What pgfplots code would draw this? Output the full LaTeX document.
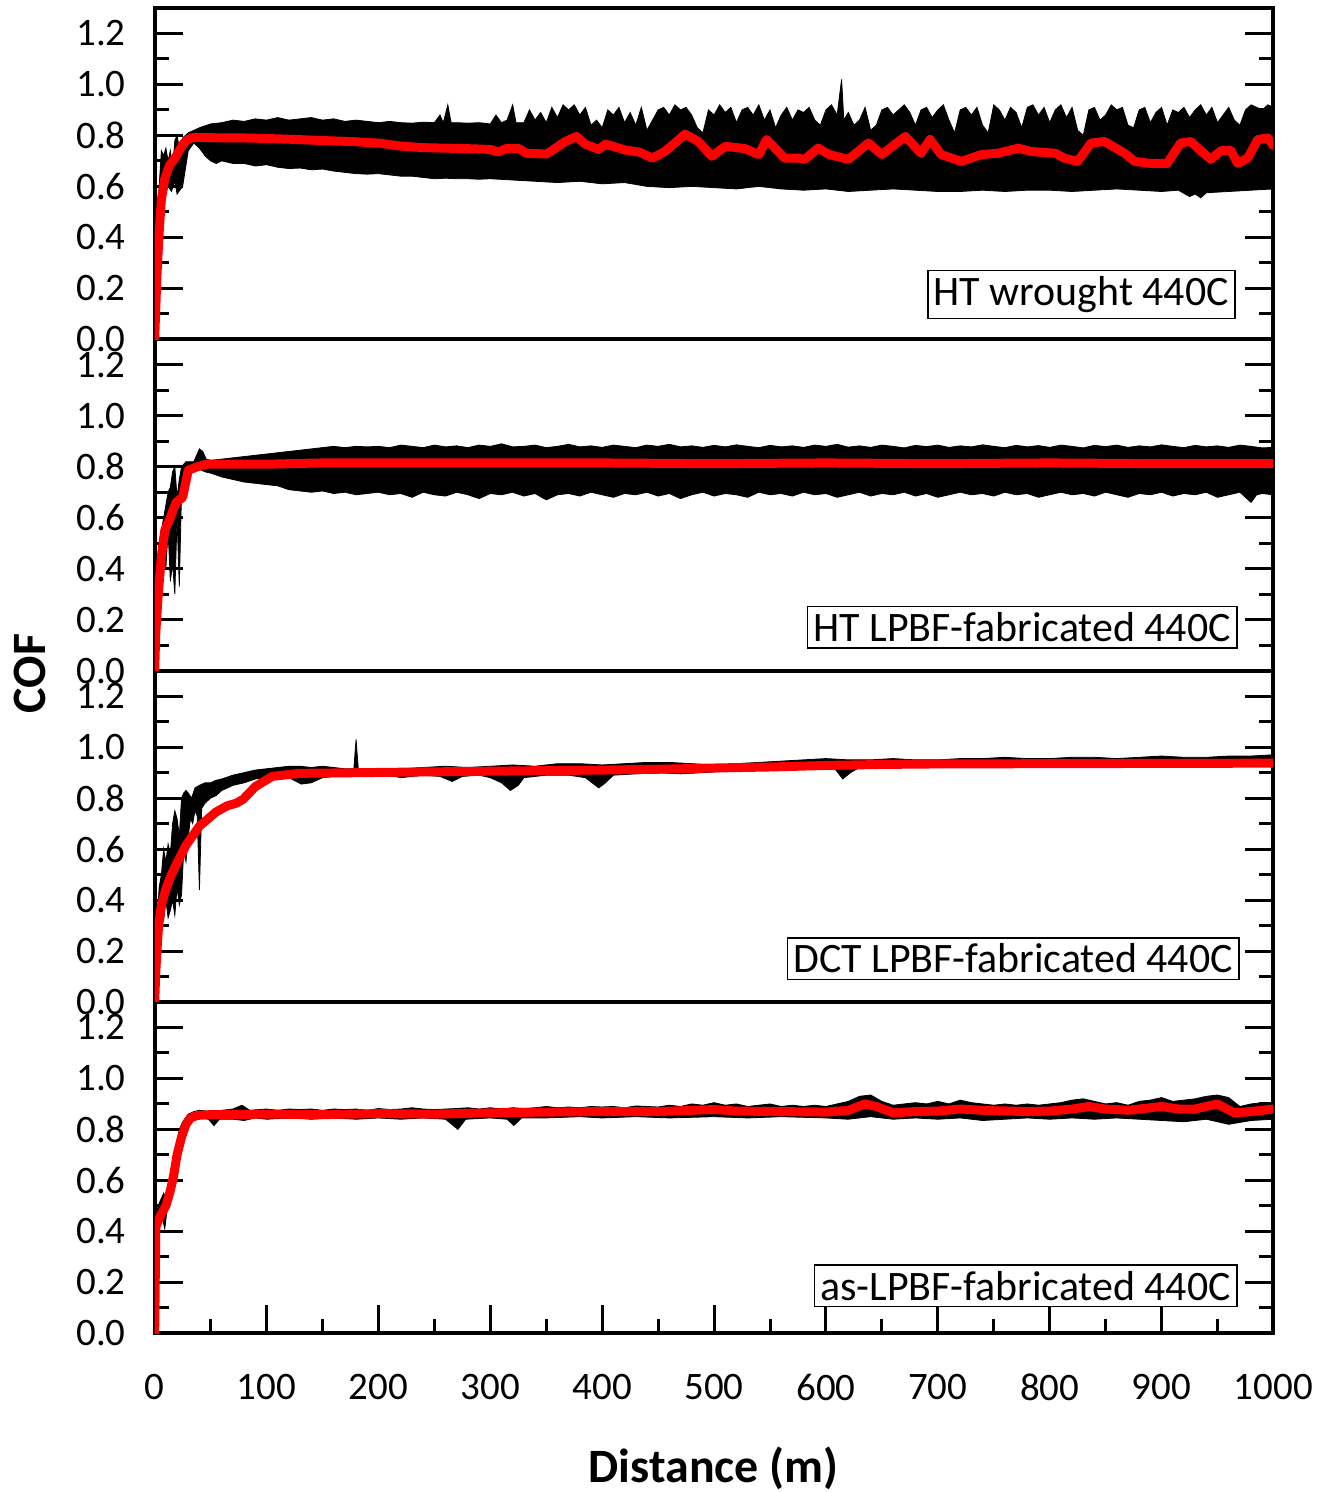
\documentclass[border=0pt]{standalone}
\usepackage{fontspec}
\setmainfont{Carlito}
\usepackage{pgfplots}
\pgfplotsset{compat=1.18}
\usepgfplotslibrary{fillbetween}

\pgfplotsset{
  panel/.style={
    scale only axis, width=560.5pt, height=166pt,
    xmin=0, xmax=1000, ymin=0, ymax=1.3,
    ytick={0,0.2,0.4,0.6,0.8,1.0,1.2},
    minor y tick num=1,
    tick align=inside, ytick pos=both,
    major tick length=14pt, minor tick length=7pt,
    axis line style={line width=2pt},
    every tick/.style={black, line width=1.5pt},
    tick label style={font=\fontsize{19.5}{22}\selectfont},
    /pgf/number format/assume math mode=true,
    /pgf/number format/1000 sep={},
    yticklabel style={xshift=-11pt, /pgf/number format/fixed,
      /pgf/number format/fixed zerofill, /pgf/number format/precision=1},
    xtick=\empty,
  },
  bottompanel/.style={
    xtick={0,100,200,300,400,500,600,700,800,900,1000},
    minor x tick num=1, xtick pos=left,
    xticklabel style={yshift=-17pt},
  },
  edge/.style={black, line width=0.4pt},
  band/.style={black, draw=none},
  cofline/.style={red, line width=4.5pt, line join=round, line cap=round},
}
\tikzset{
  tag/.style={draw, line width=0.75pt, inner sep=3pt, anchor=south east,
    font=\fontsize{21}{24}\selectfont, fill=white},
}

\begin{document}
\begin{tikzpicture}

% ---------------- HT wrought 440C
\begin{axis}[panel, at={(0,498pt)}, anchor=south west]
\addplot[edge, name path=u1] coordinates {
(0,0) (2,0.3) (4,0.6) (6,0.74) (8,0.72) (10,0.75) (12,0.7) (14,0.74) (16,0.66) (18,0.78) (20,0.8) (22,0.75) (25,0.79) (30,0.81) (35,0.82)
(40,0.83) (50,0.845) (60,0.85) (70,0.86) (80,0.855) (90,0.865) (100,0.86) (110,0.87) (120,0.86) (130,0.865) (140,0.87) (150,0.86)
(160,0.865) (170,0.855) (180,0.86) (190,0.855) (200,0.85) (210,0.855) (220,0.85) (230,0.848) (240,0.852) (250,0.85) (255,0.88)
(258,0.85) (262,0.92) (265,0.85) (270,0.85) (280,0.848) (290,0.85) (300,0.845) (305,0.88) (310,0.85) (315,0.86) (320,0.92)
(323,0.85) (330,0.85) (335,0.9) (340,0.86) (345,0.89) (350,0.85) (355,0.91) (360,0.87) (365,0.92) (370,0.9) (375,0.92) (380,0.88)
(385,0.91) (390,0.84) (395,0.86) (400,0.83) (405,0.9) (410,0.88) (415,0.91) (420,0.85) (425,0.89) (430,0.84) (435,0.91) (440,0.82)
(445,0.86) (450,0.9) (455,0.91) (460,0.88) (465,0.92) (470,0.9) (475,0.91) (480,0.88) (485,0.83) (490,0.81) (495,0.9) (500,0.88)
(505,0.92) (510,0.89) (515,0.91) (520,0.85) (525,0.9) (530,0.91) (535,0.88) (540,0.92) (545,0.86) (550,0.9) (555,0.83) (560,0.88)
(565,0.91) (570,0.86) (575,0.9) (580,0.89) (585,0.91) (590,0.86) (595,0.84) (600,0.9) (605,0.92) (610,0.88) (614,1.02) (616,0.86)
(620,0.89) (625,0.84) (630,0.86) (635,0.91) (640,0.82) (645,0.84) (650,0.9) (655,0.91) (660,0.88) (665,0.9) (670,0.92) (675,0.89)
(680,0.84) (685,0.9) (690,0.91) (695,0.87) (700,0.9) (705,0.92) (710,0.86) (715,0.81) (720,0.9) (725,0.91) (730,0.88) (735,0.91)
(740,0.84) (745,0.81) (750,0.92) (755,0.9) (760,0.86) (765,0.91) (770,0.89) (775,0.83) (780,0.91) (785,0.92) (790,0.88) (795,0.91)
(800,0.85) (805,0.9) (810,0.92) (815,0.87) (820,0.91) (825,0.82) (830,0.8) (835,0.9) (840,0.91) (845,0.86) (850,0.88) (855,0.92)
(860,0.9) (865,0.91) (870,0.84) (875,0.83) (880,0.9) (885,0.91) (890,0.85) (895,0.89) (900,0.91) (905,0.84) (910,0.9) (915,0.89)
(920,0.91) (925,0.87) (930,0.9) (935,0.92) (940,0.88) (945,0.91) (950,0.85) (955,0.88) (960,0.91) (965,0.86) (970,0.84) (975,0.9)
(980,0.92) (985,0.91) (990,0.9) (995,0.92) (1000,0.91)
};
\addplot[edge, name path=l1] coordinates {
(0,0) (2,0.2) (5,0.45) (8,0.55) (12,0.6) (15,0.58) (18,0.62) (20,0.57) (25,0.6) (30,0.74) (35,0.77) (40,0.75) (45,0.72) (50,0.7)
(55,0.69) (60,0.7) (70,0.69) (80,0.69) (90,0.68) (100,0.685) (110,0.675) (120,0.67) (130,0.672) (140,0.665) (150,0.668) (160,0.66)
(170,0.655) (180,0.65) (190,0.648) (200,0.65) (210,0.645) (220,0.64) (230,0.64) (240,0.635) (250,0.63) (260,0.632) (270,0.63)
(280,0.63) (290,0.628) (300,0.63) (320,0.625) (340,0.62) (360,0.615) (380,0.62) (400,0.61) (420,0.615) (440,0.6) (460,0.595)
(480,0.6) (500,0.595) (520,0.59) (540,0.6) (560,0.59) (580,0.585) (600,0.59) (620,0.58) (640,0.585) (660,0.59) (680,0.585)
(700,0.58) (720,0.58) (740,0.585) (760,0.58) (780,0.585) (800,0.585) (820,0.58) (840,0.585) (860,0.59) (880,0.585) (900,0.58)
(915,0.585) (925,0.56) (930,0.57) (935,0.555) (940,0.575) (960,0.58) (980,0.585) (1000,0.59)
};
\addplot[band] fill between[of=u1 and l1];
\addplot[cofline] coordinates {
(0,0) (2,0.25) (4,0.42) (6,0.55) (9,0.63) (13,0.68) (18,0.71) (22,0.74) (26,0.77) (30,0.785) (35,0.792) (45,0.792) (60,0.79)
(80,0.79) (100,0.788) (120,0.785) (150,0.78) (180,0.775) (200,0.77) (220,0.758) (240,0.752) (260,0.75) (280,0.748) (300,0.745)
(307,0.735) (314,0.748) (326,0.748) (332,0.73) (350,0.727) (355,0.74) (367,0.776) (377,0.796) (385,0.765) (397,0.745) (403,0.766)
(421,0.742) (433,0.735) (445,0.711) (456,0.737) (465,0.77) (474,0.805) (486,0.776) (498,0.718) (510,0.757) (528,0.748) (540,0.725)
(547,0.784) (563,0.711) (575,0.711) (581,0.706) (593,0.75) (603,0.725) (620,0.706) (638,0.77) (650,0.725) (671,0.796) (685,0.73)
(693,0.784) (703,0.725) (721,0.698) (739,0.725) (754,0.73) (772,0.75) (783,0.737) (805,0.73) (813,0.711) (825,0.698) (837,0.77)
(849,0.776) (867,0.73) (876,0.698) (890,0.69) (905,0.69) (917,0.77) (926,0.776) (935,0.74) (944,0.706) (953,0.74) (962,0.74)
(968,0.69) (977,0.711) (986,0.784) (995,0.79) (1000,0.76)
};
\node[tag, xshift=-19pt, yshift=10pt] at (rel axis cs:1,0) {HT wrought 440C};
\end{axis}

% ---------------- HT LPBF-fabricated 440C
\begin{axis}[panel, at={(0,332pt)}, anchor=south west]
\addplot[edge, name path=u2] coordinates {
(0,0) (2,0.3) (4,0.5) (6,0.55) (8,0.6) (10,0.65) (12,0.7) (14,0.72) (16,0.78) (18,0.8) (20,0.68) (22,0.75) (24,0.8) (26,0.81)
(28,0.82) (30,0.82) (35,0.82) (38,0.85) (40,0.87) (43,0.86) (46,0.83) (50,0.825) (60,0.83) (70,0.835) (80,0.84) (90,0.845)
(100,0.85) (110,0.855) (120,0.86) (130,0.865) (140,0.87) (150,0.875) (160,0.88) (170,0.875) (180,0.88) (190,0.878)
(200,0.88) (210,0.875) (220,0.885) (230,0.88) (240,0.875) (250,0.885) (260,0.878) (270,0.882) (280,0.875) (290,0.885) (300,0.88)
(310,0.89) (320,0.878) (330,0.88) (340,0.885) (350,0.875) (360,0.88) (370,0.888) (380,0.878) (390,0.882) (400,0.876) (410,0.885)
(420,0.88) (430,0.875) (440,0.885) (450,0.88) (460,0.888) (470,0.878) (480,0.882) (490,0.876) (500,0.884) (510,0.878) (520,0.886)
(530,0.88) (540,0.875) (550,0.884) (560,0.878) (570,0.882) (580,0.876) (590,0.885) (600,0.88) (610,0.888) (620,0.877) (630,0.882)
(640,0.876) (650,0.885) (660,0.88) (670,0.874) (680,0.884) (690,0.879) (700,0.885) (710,0.876) (720,0.882) (730,0.878) (740,0.886)
(750,0.88) (760,0.875) (770,0.884) (780,0.878) (790,0.883) (800,0.876) (810,0.885) (820,0.88) (830,0.874) (840,0.884) (850,0.879)
(860,0.885) (870,0.876) (880,0.882) (890,0.878) (900,0.886) (910,0.88) (920,0.875) (930,0.884) (940,0.878) (950,0.882) (960,0.876)
(970,0.885) (980,0.88) (990,0.874) (1000,0.876)
};
\addplot[edge, name path=l2] coordinates {
(0,0) (2,0.1) (4,0.3) (6,0.45) (8,0.5) (10,0.4) (12,0.55) (14,0.35) (16,0.42) (18,0.3) (20,0.6) (22,0.33) (24,0.7) (26,0.77)
(30,0.78) (35,0.785) (40,0.79) (45,0.78) (50,0.775) (60,0.76) (70,0.75) (80,0.74) (90,0.735) (100,0.73) (110,0.725) (120,0.71)
(130,0.705) (140,0.7) (150,0.705) (160,0.695) (170,0.7) (180,0.69) (190,0.695)
(200,0.7) (210,0.69) (220,0.695) (230,0.68) (240,0.7) (250,0.69) (260,0.685) (270,0.7) (280,0.69) (290,0.675) (300,0.695)
(310,0.69) (320,0.7) (330,0.685) (340,0.695) (350,0.67) (360,0.69) (370,0.695) (380,0.685) (390,0.7) (400,0.69) (410,0.68)
(420,0.695) (430,0.69) (440,0.7) (450,0.685) (460,0.695) (470,0.675) (480,0.69) (490,0.7) (500,0.685) (510,0.695) (520,0.69)
(530,0.68) (540,0.7) (550,0.69) (560,0.695) (570,0.685) (580,0.7) (590,0.69) (600,0.695) (610,0.68) (620,0.69) (630,0.7)
(640,0.685) (650,0.695) (660,0.69) (670,0.7) (680,0.685) (690,0.695) (700,0.68) (710,0.69) (720,0.7) (730,0.69) (740,0.695)
(750,0.685) (760,0.7) (770,0.69) (780,0.695) (790,0.68) (800,0.69) (810,0.7) (820,0.69) (830,0.695) (840,0.685) (850,0.7)
(860,0.69) (870,0.68) (880,0.695) (890,0.69) (900,0.7) (910,0.685) (920,0.695) (930,0.69) (940,0.7) (950,0.68) (960,0.69)
(970,0.7) (980,0.66) (985,0.69) (990,0.695) (1000,0.69)
};
\addplot[band] fill between[of=u2 and l2];
\addplot[cofline] coordinates {
(0,0) (1,0.15) (3,0.29) (6,0.45) (9,0.55) (14,0.6) (19,0.66) (25,0.68) (30,0.786) (38,0.8) (46,0.81) (100,0.81) (150,0.815)
(200,0.815) (300,0.815) (400,0.815) (500,0.812) (600,0.815) (700,0.812) (800,0.815) (900,0.812) (1000,0.812)
};
\node[tag, xshift=-18pt, yshift=11pt] at (rel axis cs:1,0) {HT LPBF-fabricated 440C};
\end{axis}

% ---------------- DCT LPBF-fabricated 440C
\begin{axis}[panel, at={(0,166pt)}, anchor=south west]
\addplot[edge, name path=u3] coordinates {
(0,0) (2,0.3) (4,0.45) (6,0.5) (8,0.6) (10,0.55) (12,0.62) (14,0.58) (16,0.7) (18,0.75) (20,0.72) (22,0.65) (24,0.8) (26,0.82)
(28,0.83) (30,0.82) (33,0.8) (36,0.84) (40,0.85) (45,0.86) (50,0.86) (55,0.87) (60,0.875) (70,0.89) (80,0.9) (90,0.91) (100,0.915)
(110,0.92) (120,0.925) (130,0.925) (140,0.92) (150,0.925) (160,0.92) (170,0.915) (178,0.915) (180,1.03) (182,0.915) (190,0.91)
(200,0.91) (220,0.915) (240,0.92) (260,0.925) (280,0.92) (300,0.925) (320,0.93) (340,0.925) (360,0.935) (380,0.935) (400,0.93)
(420,0.935) (440,0.94) (460,0.94) (480,0.935) (500,0.93) (520,0.935) (540,0.94) (560,0.945) (580,0.95) (600,0.955) (620,0.95)
(640,0.95) (660,0.955) (680,0.95) (700,0.95) (720,0.955) (740,0.955) (760,0.96) (780,0.955) (800,0.955) (820,0.96) (840,0.96)
(860,0.955) (880,0.96) (900,0.965) (920,0.96) (940,0.96) (960,0.965) (980,0.965) (1000,0.97)
};
\addplot[edge, name path=l3] coordinates {
(0,0) (2,0.1) (4,0.3) (6,0.35) (8,0.32) (10,0.4) (12,0.33) (14,0.36) (16,0.4) (18,0.34) (20,0.45) (22,0.38) (24,0.42) (26,0.6)
(28,0.55) (30,0.65) (32,0.72) (34,0.7) (36,0.75) (38,0.73) (40,0.44) (42,0.76) (45,0.78) (50,0.8) (55,0.81) (60,0.83) (70,0.85)
(80,0.86) (90,0.875) (100,0.88) (110,0.885) (120,0.88) (131,0.855) (140,0.86) (150,0.88) (160,0.885) (170,0.89) (180,0.885)
(190,0.89) (200,0.885) (210,0.89) (220,0.88) (240,0.89) (255,0.885) (266,0.865) (275,0.885) (290,0.89) (300,0.88) (310,0.86)
(318,0.83) (325,0.85) (330,0.88) (350,0.89) (370,0.89) (385,0.88) (397,0.84) (403,0.86) (410,0.89) (430,0.895) (450,0.9)
(470,0.895) (490,0.9) (510,0.905) (530,0.91) (550,0.91) (570,0.915) (590,0.92) (608,0.915) (615,0.875) (622,0.9) (630,0.92)
(650,0.925) (700,0.925) (750,0.925) (800,0.925) (850,0.925) (900,0.925) (950,0.925) (1000,0.93)
};
\addplot[band] fill between[of=u3 and l3];
\addplot[cofline] coordinates {
(0,0) (1,0.12) (2,0.2) (3.5,0.3) (6,0.38) (10.5,0.45) (15,0.5) (19.4,0.54) (28,0.615) (40,0.69) (55,0.746) (65,0.77) (73,0.78)
(79,0.795) (90,0.845) (105,0.885) (129,0.897) (189,0.9) (250,0.903) (352,0.908) (400,0.91) (450,0.913) (500,0.918) (550,0.922)
(600,0.928) (650,0.932) (700,0.934) (800,0.935) (900,0.936) (1000,0.937)
};
\node[tag, xshift=-17pt, yshift=11pt] at (rel axis cs:1,0) {DCT LPBF-fabricated 440C};
\end{axis}

% ---------------- as-LPBF-fabricated 440C
\begin{axis}[panel, bottompanel, at={(0,0)}, anchor=south west]
\addplot[edge, name path=u4] coordinates {
(0,0) (1,0.45) (3,0.5) (5,0.52) (8,0.55) (10,0.53) (12,0.58) (14,0.56) (16,0.62) (18,0.7) (20,0.75) (22,0.8) (25,0.83) (30,0.86)
(35,0.87) (40,0.875) (50,0.87) (60,0.875) (70,0.88) (78,0.895) (85,0.875) (100,0.88) (110,0.875) (120,0.88) (130,0.878) (140,0.88)
(150,0.875) (160,0.88) (170,0.878) (180,0.88) (190,0.875) (200,0.882) (210,0.878) (220,0.88) (230,0.885) (240,0.88) (250,0.878)
(260,0.88) (270,0.882) (280,0.885) (290,0.88) (300,0.885) (310,0.88) (320,0.885) (330,0.882) (340,0.885) (350,0.89) (360,0.885)
(370,0.888) (380,0.885) (390,0.89) (400,0.888) (410,0.89) (420,0.885) (430,0.892) (440,0.89) (450,0.888) (460,0.895) (470,0.89)
(480,0.9) (490,0.895) (500,0.905) (510,0.895) (520,0.9) (530,0.89) (540,0.895) (550,0.9) (560,0.89) (570,0.895) (580,0.89)
(590,0.895) (600,0.89) (610,0.9) (620,0.91) (630,0.93) (640,0.935) (650,0.91) (660,0.895) (670,0.9) (680,0.905) (690,0.9)
(700,0.91) (710,0.9) (720,0.915) (730,0.905) (740,0.9) (750,0.895) (760,0.9) (770,0.895) (780,0.9) (790,0.895) (800,0.9)
(810,0.905) (820,0.915) (830,0.92) (840,0.91) (850,0.9) (860,0.905) (870,0.895) (880,0.91) (890,0.915) (900,0.925) (910,0.91)
(920,0.915) (930,0.92) (940,0.93) (950,0.935) (960,0.925) (970,0.89) (980,0.9) (990,0.905) (1000,0.9)
};
\addplot[edge, name path=l4] coordinates {
(0,0) (1,0.4) (3,0.44) (5,0.42) (7,0.45) (9,0.41) (11,0.48) (13,0.5) (15,0.55) (18,0.62) (20,0.68) (22,0.74) (25,0.79) (30,0.83)
(35,0.84) (40,0.845) (48,0.84) (53,0.815) (58,0.84) (70,0.84) (80,0.835) (90,0.845) (100,0.84) (120,0.845) (140,0.84) (160,0.845)
(180,0.84) (200,0.845) (220,0.84) (240,0.845) (260,0.84) (271,0.8) (278,0.84) (300,0.845) (315,0.84) (321,0.815) (328,0.845)
(350,0.845) (380,0.85) (400,0.845) (430,0.85) (460,0.845) (500,0.85) (530,0.845) (560,0.85) (600,0.845) (620,0.84) (640,0.85)
(660,0.84) (680,0.845) (700,0.84) (720,0.845) (740,0.835) (760,0.84) (780,0.845) (800,0.84) (820,0.845) (840,0.84) (860,0.845)
(880,0.84) (900,0.835) (920,0.83) (940,0.84) (960,0.82) (980,0.835) (1000,0.84)
};
\addplot[band] fill between[of=u4 and l4];
\addplot[cofline] coordinates {
(0,0) (1,0.42) (5,0.46) (10,0.5) (14,0.56) (17,0.62) (20,0.7) (24,0.77) (28,0.82) (32,0.845) (38,0.855) (50,0.858) (100,0.86)
(150,0.858) (200,0.862) (250,0.86) (300,0.865) (350,0.868) (400,0.87) (450,0.87) (480,0.875) (500,0.878) (520,0.872) (560,0.87)
(600,0.868) (620,0.875) (635,0.9) (645,0.89) (660,0.865) (680,0.87) (700,0.872) (720,0.88) (740,0.875) (780,0.87) (800,0.872)
(820,0.88) (835,0.89) (850,0.88) (870,0.875) (880,0.88) (900,0.89) (915,0.88) (930,0.88) (950,0.9) (965,0.865) (980,0.87)
(1000,0.88)
};
\node[tag, xshift=-18pt, yshift=13pt] at (rel axis cs:1,0) {as-LPBF-fabricated 440C};
\end{axis}

\node[rotate=90, inner sep=0pt, font=\bfseries\fontsize{24}{28}\selectfont] at (-62.5pt,330.5pt) {COF};
\node[anchor=base, inner sep=0pt, font=\bfseries\fontsize{24}{28}\selectfont] at (280pt,-74.5pt) {Distance (m)};
\path (-77.5pt,-79.5pt) rectangle (588.5pt,668pt);
\end{tikzpicture}
\end{document}
